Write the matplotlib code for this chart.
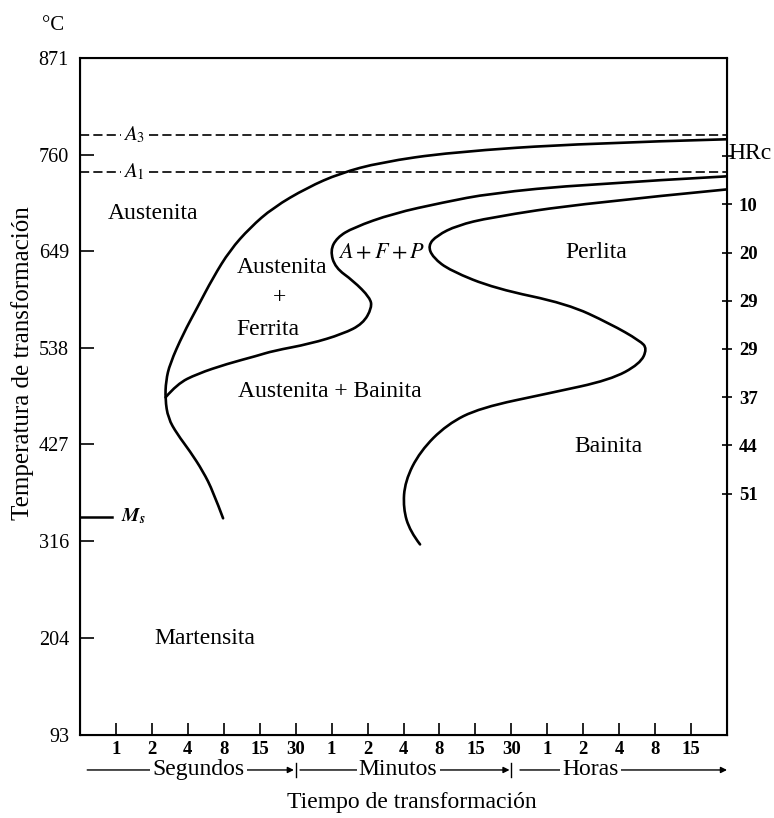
import numpy as np
import matplotlib.pyplot as plt
from matplotlib.path import Path
from matplotlib.patches import PathPatch

plt.rcParams['font.family'] = ['Liberation Serif', 'DejaVu Serif']
plt.rcParams['mathtext.fontset'] = 'stix'

# axes ticks
temp_ticks = [93, 204, 316, 427, 538, 649, 760, 871]
time_labels = ['1', '2', '4', '8', '15', '30', '1', '2', '4', '8', '15', '30',
               '1', '2', '4', '8', '15']
hrc_temps = [758, 703, 647, 592, 537, 481, 426, 370]
hrc_labels = ['', '10', '20', '29', '29', '37', '44', '51']
units = ['Segundos', 'Minutos', 'Horas']

# critical temperatures (°C)
A3 = 782
A1 = 740
Ms = 344

# curves: x = position on the time scale, y = °C
start_x = [18.0, 14.0, 10.3, 8.35, 7.23, 6.32, 5.37, 4.73, 4.17, 3.70, 3.26,
           2.87, 2.50, 2.39, 2.37, 2.45, 2.70, 3.06, 3.42, 3.70, 3.98]
start_t = [777.6, 773, 762.7, 751, 738.5, 722, 699, 676, 650, 618.6, 584,
           554, 519.5, 500, 479, 457, 439, 419, 396, 373, 342]

ferr_x = [18.0, 14.0, 11.41, 10.10, 8.71, 7.60, 7.15, 6.96, 7.10, 7.60, 8.07,
          8.12, 7.87, 7.32, 6.40, 5.37, 4.92, 4.09, 3.26, 2.70, 2.38]
ferr_t = [735, 725.8, 715.4, 705, 692.3, 676, 664.7, 649.7, 630, 615, 595.5,
          584, 565.6, 554, 542.5, 534.4, 528.7, 519.5, 508, 496.4, 481]

perl_x = [18.0, 14.0, 11.41, 10.49, 9.93, 9.68, 9.82, 10.30, 11.55, 13.55,
          14.75, 15.58, 15.78, 15.58, 14.75, 13.08, 11.13, 10.21, 9.46, 9.04,
          8.99, 9.18, 9.46]
perl_t = [720, 704, 687.7, 678.5, 667, 655.5, 641.6, 626.6, 606, 588.6,
          565.6, 546, 537, 519.5, 501, 486, 469, 450, 419, 384.6, 353.5, 327,
          312]


def smooth_path(xs, ys):
    # quadratic bezier through the read points (points used as control points)
    pts = np.column_stack([xs, ys])
    verts = [pts[0]]
    codes = [Path.MOVETO]
    for i in range(1, len(pts) - 1):
        mid = (pts[i] + pts[i + 1]) / 2 if i < len(pts) - 2 else pts[i + 1]
        verts += [pts[i], mid]
        codes += [Path.CURVE3, Path.CURVE3]
    return Path(verts, codes)


fig = plt.figure(figsize=(7.74, 8.18), dpi=100)
ax = fig.add_axes([0.1034, 0.1015, 0.8359, 0.8276])

for xs, ts in [(start_x, start_t), (ferr_x, ferr_t), (perl_x, perl_t)]:
    ax.add_patch(PathPatch(smooth_path(xs, ts), fc='none', ec='black', lw=1.9,
                           capstyle='round', joinstyle='round'))

# A3 / A1 dashed lines with their labels
for temp, name in [(A3, '$A_3$'), (A1, '$A_1$')]:
    ax.plot([0, 1.15], [temp, temp], color='black', lw=1.2, ls=(0, (5.5, 2.5)))
    ax.plot([1.92, 18], [temp, temp], color='black', lw=1.2, ls=(0, (5.5, 2.5)))
    ax.text(1.2, temp, name, fontsize=15, ha='left', va='center')

# Ms
ax.plot([0, 0.9], [Ms, Ms], color='black', lw=1.8, clip_on=False)
ax.text(1.15, Ms, r'$\mathbfit{M}_\mathbfit{s}$', fontsize=14, ha='left', va='center')

# region labels
fs = 17
ax.text(0.78, 692, 'Austenita', fontsize=fs, ha='left', va='center')
ax.text(5.62, 630, 'Austenita', fontsize=fs, ha='center', va='center')
ax.text(5.54, 596, '+', fontsize=fs, ha='center', va='center')
ax.text(5.22, 559, 'Ferrita', fontsize=fs, ha='center', va='center')
ax.text(8.38, 646, '$A+F+P$', fontsize=16, ha='center', va='center')
ax.text(6.96, 488, 'Austenita + Bainita', fontsize=fs, ha='center', va='center')
ax.text(14.36, 647, 'Perlita', fontsize=fs, ha='center', va='center')
ax.text(14.69, 425, 'Bainita', fontsize=fs, ha='center', va='center')
ax.text(3.47, 204, 'Martensita', fontsize=fs, ha='center', va='center')

ax.set_xlim(0, 18)
ax.set_ylim(93, 871)
ax.set_yticks(temp_ticks)
ax.set_yticklabels([str(t) for t in temp_ticks])
ax.set_xticks(range(1, len(time_labels) + 1))
ax.set_xticklabels(time_labels)
ax.tick_params(axis='y', direction='in', length=10, width=1.2, pad=8, labelsize=14.5)
ax.tick_params(axis='x', direction='in', length=9, width=1.2, pad=4, labelsize=13.5)
for lbl in ax.get_xticklabels():
    lbl.set_fontweight('bold')
for sp in ax.spines.values():
    sp.set_linewidth(1.5)

# hardness scale on the right
ax2 = ax.twinx()
ax2.set_ylim(93, 871)
ax2.set_yticks(hrc_temps)
ax2.set_yticklabels(hrc_labels)
ax2.tick_params(axis='y', direction='inout', length=7, width=1.2, pad=5, labelsize=13.5)
for lbl in ax2.get_yticklabels():
    lbl.set_fontweight('bold')
ax2.text(18.05, 761, 'HRc', fontsize=17, ha='left', va='center', clip_on=False,
         transform=ax.transData)

# time unit row under the axis
tr = ax.get_xaxis_transform()
yrow = -0.0517
arrow_spans = [(0.2, 5.95), (6.12, 11.95), (12.24, 18.0)]
text_pos = [3.3, 8.85, 14.2]
for (x0, x1), xt, name in zip(arrow_spans, text_pos, units):
    ax.annotate('', xy=(x1, yrow), xytext=(x0, yrow), xycoords=tr, textcoords=tr,
                arrowprops=dict(arrowstyle='-|>', color='black', lw=1.0,
                                shrinkA=0, shrinkB=0, mutation_scale=9),
                annotation_clip=False)
    ax.text(xt, yrow, name, transform=tr, fontsize=17, ha='center', va='center',
            zorder=5, bbox=dict(fc='white', ec='none', pad=1.5))
for xb in [6, 12]:
    ax.plot([xb, xb], [yrow - 0.011, yrow + 0.011], transform=tr, color='black',
            lw=1.0, clip_on=False)

fig.text(0.532, 0.019, 'Tiempo de transformación', fontsize=17, ha='center', va='center')
fig.text(0.0297, 0.556, 'Temperatura de transformación', fontsize=18, rotation=90,
         ha='center', va='center')
fig.text(0.0685, 0.9694, '°C', fontsize=15, ha='center', va='center')

fig.savefig('out.png', dpi=100)
